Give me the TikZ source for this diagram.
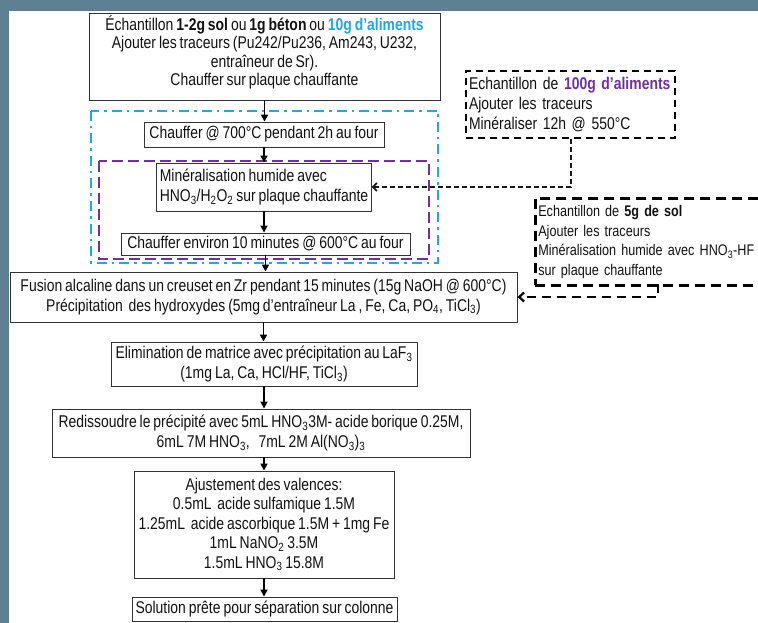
\documentclass[tikz,border=0pt]{standalone}
\usepackage{fontspec}
\setmainfont{Liberation Sans}[FakeStretch=0.82,WordSpace=0.75]
\usetikzlibrary{arrows.meta}
\definecolor{framec}{HTML}{5F7F92}
\definecolor{cyanc}{HTML}{23A7DE}
\definecolor{purpc}{HTML}{7030A0}
\definecolor{inkc}{HTML}{111111}
\definecolor{edgec}{HTML}{333333}
\newcommand{\fsz}{\fontsize{17}{20}\selectfont}
\newcommand{\sbs}[1]{\textsubscript{#1}}
\begin{document}
\begin{tikzpicture}[x=1pt,y=-1pt,
  proc/.style={draw=edgec, line width=0.9pt, inner xsep=3pt, inner ysep=1pt,
    font=\fsz, text=inkc, align=center, fill=white},
  note/.style={draw=black, line width=2pt, inner xsep=3pt, inner ysep=1pt,
    font=\fsz, text=inkc, align=left},
  arr/.style={draw=black, line width=1.6pt, -{Triangle[length=7pt,width=7pt]}},
  dconA/.style={draw=black!90, line width=2pt, dash pattern=on 5pt off 3pt,
    -{Straight Barb[length=4pt,width=8pt,line width=1.8pt]}},
  dconB/.style={draw=black, line width=2.4pt, dash pattern=on 9pt off 6pt,
    -{Straight Barb[length=5pt,width=9pt,line width=2.2pt]}},
  cyanframe/.style={draw=cyanc, line width=2.7pt,
    dash pattern=on 10pt off 5pt on 2.5pt off 5pt},
  purpframe/.style={draw=purpc, line width=2.8pt, dash pattern=on 11pt off 5pt}
]
\fill[framec] (0,0) rectangle (758,623);
\fill[white] (8.7,10.7) rectangle (758,623);
\useasboundingbox (0,0) rectangle (758,623);

% frames
\draw[cyanframe] (91,111) rectangle (438,263);
\draw[purpframe] (99,161) rectangle (429,259);

% main boxes
\node[proc, minimum width=351pt, minimum height=87pt, font=\fontsize{17}{18.4}\selectfont] (B1) at (264.5,56.5)
  {Échantillon \textbf{1-2g sol} ou \textbf{1g béton} ou \textbf{\color{cyanc}10g d’aliments}\\
   Ajouter les traceurs (Pu242/Pu236, Am243, U232,\\
   entraîneur de Sr).\\
   Chauffer sur plaque chauffante\\[-7pt]\mbox{}};
\node[proc, minimum width=240pt, minimum height=25pt] (B2) at (264,134.5)
  {Chauffer @ 700°C pendant 2h au four};
\node[proc, minimum width=212pt, minimum height=48pt, align=left] (B3) at (264,187)
  {Minéralisation humide avec\\HNO\sbs{3}/H\sbs{2}O\sbs{2} sur plaque chauffante};
\node[proc, minimum width=289pt, minimum height=22pt] (B4) at (265.5,244)
  {Chauffer environ 10 minutes @ 600°C au four};
\node[proc, minimum width=507pt, minimum height=50pt] (B5) at (263.5,297)
  {Fusion alcaline dans un creuset en Zr pendant 15 minutes (15g NaOH @ 600°C)\\
   Précipitation\ \ des hydroxydes (5mg d’entraîneur La , Fe, Ca, PO\sbs{4}, TiCl\sbs{3})};
\node[proc, minimum width=306pt, minimum height=44pt] (B6) at (264,364)
  {Elimination de matrice avec précipitation au LaF\sbs{3}\\
   (1mg La, Ca, HCl/HF, TiCl\sbs{3})};
\node[proc, minimum width=418pt, minimum height=48pt] (B7) at (261,433)
  {Redissoudre le précipité avec 5mL HNO\sbs{3}3M- acide borique 0.25M,\\
   6mL 7M HNO\sbs{3},\ \ \ 7mL 2M Al(NO\sbs{3})\sbs{3}};
\node[proc, minimum width=260pt, minimum height=107pt, font=\fontsize{17}{19.5}\selectfont] (B8) at (264,524.5)
  {Ajustement des valences:\\
   0.5mL\ \ acide sulfamique 1.5M\\
   1.25mL\ \ acide ascorbique 1.5M + 1mg Fe\\
   1mL NaNO\sbs{2} 3.5M\\
   1.5mL HNO\sbs{3} 15.8M};
\node[proc, minimum width=265pt, minimum height=24pt] (B9) at (264.5,609)
  {Solution prête pour séparation sur colonne};

% side notes
\node[note, dash pattern=on 7pt off 5pt, text width=203pt, minimum height=67pt,
      font=\fontsize{17}{20}\selectfont] (D1) at (570.5,104.5)
  {\mbox{Echantillon de \textbf{\color{purpc}100g d’aliments}}\\
   Ajouter les traceurs\\
   Minéraliser 12h @ 550°C};
\node[note, line width=2.6pt, dash pattern=on 10pt off 6pt, text width=270pt,
      minimum height=87pt, anchor=north west, font=\fontsize{15.4}{19.5}\selectfont] (D2) at (534,197)
  {\mbox{Echantillon de \textbf{5g de sol}}\\
   Ajouter les traceurs\\
   \mbox{Minéralisation humide avec HNO\sbs{3}-HF}\\
   sur plaque chauffante};
\coordinate (c2) at (658,284);

% main arrows
\draw[arr] (B1.south) -- (B1.south |- B2.north);
\draw[arr] (B2.south) -- (B2.south |- B3.north);
\draw[arr] (B3.south) -- (B3.south |- B4.north);
\draw[arr] (B4.south) -- (B4.south |- B5.north);
\draw[arr] (B5.south) -- (B5.south |- B6.north);
\draw[arr] (B6.south) -- (B6.south |- B7.north);
\draw[arr] (B8.north |- B7.south) -- (B8.north);
\draw[arr] (B8.south) -- (B8.south |- B9.north);

% dashed connectors
\draw[dconA] (D1.south) |- (B3.east);
\draw[dconB] (c2) |- (B5.east);
\end{tikzpicture}
\end{document}
